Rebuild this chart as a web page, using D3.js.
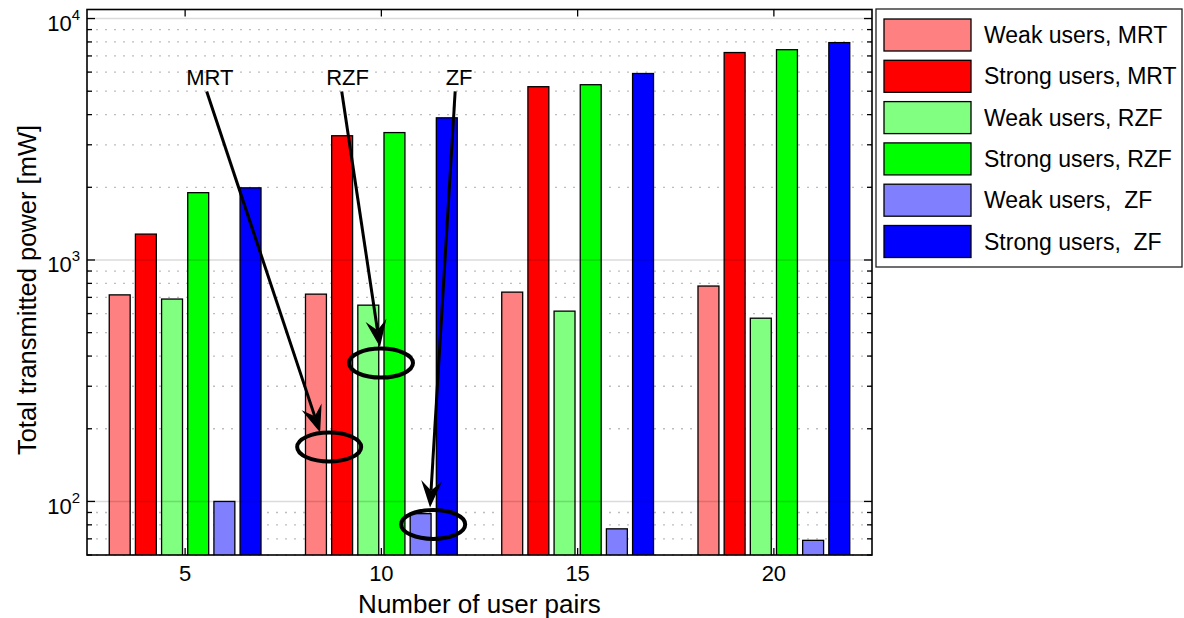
<!DOCTYPE html>
<html>
<head>
<meta charset="utf-8">
<script src="https://cdn.jsdelivr.net/npm/d3@7"></script>
<style>
  body { margin: 0; background: #fff; }
  svg { font-family: "Liberation Sans", Arial, sans-serif; display: block; }
</style>
</head>
<body>
<div id="chart-div"></div>
<script>
// ------------------------- data
var categories = [5, 10, 15, 20];
var seriesNames = ["Weak users, MRT", "Strong users, MRT", "Weak users, RZF",
                   "Strong users, RZF", "Weak users,  ZF", "Strong users,  ZF"];
var weakMRT   = [717, 722, 736, 780];
var strongMRT = [1280, 3270, 5220, 7230];
var weakRZF   = [689, 650, 614, 574];
var strongRZF = [1900, 3370, 5320, 7430];
var weakZF    = [100, 89, 77, 69];
var strongZF  = [1990, 3880, 5920, 7950];
var yMajorTicks = [100, 1000, 10000];
var xTickValues = [5, 10, 15, 20];

// annotations in data units: label pos, arrow start, arrow tip, ellipse centre
var annoLabels = ["MRT", "RZF", "ZF"];
var annoText   = [[5.63, 5300], [9.14, 5300], [11.98, 5300]];
var annoFrom   = [[5.55, 4990], [8.99, 4990], [11.88, 4990]];
var annoTo     = [[8.44, 193], [9.965, 436], [11.24, 94.4]];
var annoCircle = [[8.67, 168], [9.99, 374], [11.32, 80.3]];

var colors = ["#ff8080", "#ff0000", "#80ff80", "#00ff00", "#8080ff", "#0000ff"];

function drawChart() {
    var allSeries = [weakMRT, strongMRT, weakRZF, strongRZF, weakZF, strongZF];
    var svgWidth = 1184, svgHeight = 618;
    var left = 87, right = 872, top = 9.5, bottom = 555;

    var svg = d3.select("#chart-div").append("svg")
        .attr("width", svgWidth)
        .attr("height", svgHeight);

    var x = d3.scaleLinear().domain([2.5, 22.5]).range([left, right]);
    var y = d3.scaleLog().domain([60, 10900]).range([bottom, top]);
    // position of bars inside a group, 4 x-units wide
    var inner = d3.scaleBand()
        .domain(d3.range(seriesNames.length))
        .range([x(0) - x(2), x(2) - x(0)])
        .paddingInner(0.2)
        .paddingOuter(0.1);

    svg.append("defs").append("clipPath").attr("id", "plot-clip")
        .append("rect")
        .attr("x", left).attr("y", top)
        .attr("width", right - left).attr("height", bottom - top);

    // minor dotted grid
    var minorTicks = y.ticks().filter(function(t) { return yMajorTicks.indexOf(t) < 0; });
    svg.append("g").selectAll("line")
        .data(minorTicks)
        .enter().append("line")
        .attr("x1", left).attr("x2", right)
        .attr("y1", function(d) { return y(d); })
        .attr("y2", function(d) { return y(d); })
        .attr("stroke", "#bdbdbd")
        .attr("stroke-width", 1.3)
        .attr("stroke-dasharray", "2,7");

    // bars
    var barG = svg.append("g").attr("clip-path", "url(#plot-clip)");
    allSeries.forEach(function(vals, s) {
        barG.append("g").selectAll("rect")
            .data(vals)
            .enter().append("rect")
            .attr("x", function(d, i) { return x(categories[i]) + inner(s); })
            .attr("y", function(d) { return y(d); })
            .attr("width", inner.bandwidth())
            .attr("height", function(d) { return bottom + 5 - y(d); })
            .attr("fill", colors[s])
            .attr("stroke", "#000")
            .attr("stroke-width", 1.3);
    });

    // major grid, drawn over the bars
    svg.append("g").selectAll("line")
        .data(yMajorTicks)
        .enter().append("line")
        .attr("x1", left).attr("x2", right)
        .attr("y1", function(d) { return y(d); })
        .attr("y2", function(d) { return y(d); })
        .attr("stroke", "#000")
        .attr("stroke-opacity", 0.14)
        .attr("stroke-width", 1.5);

    // inward ticks on left and right
    var allY = minorTicks.concat(yMajorTicks);
    [left, right].forEach(function(edge, k) {
        var dir = k === 0 ? 1 : -1;
        svg.append("g").selectAll("line")
            .data(allY)
            .enter().append("line")
            .attr("x1", edge)
            .attr("x2", function(d) { return edge + dir * (yMajorTicks.indexOf(d) >= 0 ? 8 : 5); })
            .attr("y1", function(d) { return y(d); })
            .attr("y2", function(d) { return y(d); })
            .attr("stroke", "#000")
            .attr("stroke-width", 1.3);
    });
    // inward ticks on top and bottom
    [top, bottom].forEach(function(edge, k) {
        var dir = k === 0 ? 1 : -1;
        svg.append("g").selectAll("line")
            .data(xTickValues)
            .enter().append("line")
            .attr("x1", function(d) { return x(d); })
            .attr("x2", function(d) { return x(d); })
            .attr("y1", edge)
            .attr("y2", edge + dir * 7)
            .attr("stroke", "#000")
            .attr("stroke-width", 1.3);
    });

    // box
    svg.append("rect")
        .attr("x", left).attr("y", top)
        .attr("width", right - left).attr("height", bottom - top)
        .attr("fill", "none")
        .attr("stroke", "#000")
        .attr("stroke-width", 1.6);

    // tick labels
    svg.append("g").selectAll("text")
        .data(xTickValues)
        .enter().append("text")
        .attr("x", function(d) { return x(d); })
        .attr("y", bottom + 26)
        .attr("text-anchor", "middle")
        .style("font-size", "22px")
        .text(function(d) { return d; });

    var yLab = svg.append("g").selectAll("text")
        .data(yMajorTicks)
        .enter().append("text")
        .attr("x", 80)
        .attr("y", function(d) { return y(d) + 12.5; })
        .attr("text-anchor", "end")
        .style("font-size", "22px");
    yLab.append("tspan").text("10");
    yLab.append("tspan")
        .attr("dy", -11)
        .style("font-size", "15px")
        .text(function(d) { return Math.round(Math.log10(d)); });

    // axis titles
    svg.append("text")
        .attr("x", (left + right) / 2)
        .attr("y", 613)
        .attr("text-anchor", "middle")
        .style("font-size", "26px")
        .text("Number of user pairs");
    svg.append("text")
        .attr("transform", "translate(36, 290) rotate(-90)")
        .attr("text-anchor", "middle")
        .style("font-size", "25.5px")
        .text("Total transmitted power [mW]");

    // annotations
    var annoG = svg.append("g");
    annoLabels.forEach(function(lbl, i) {
        annoG.append("text")
            .attr("x", x(annoText[i][0]))
            .attr("y", y(annoText[i][1]))
            .attr("text-anchor", "middle")
            .style("font-size", "22px")
            .text(lbl);

        var x0 = x(annoFrom[i][0]), y0 = y(annoFrom[i][1]);
        var x1 = x(annoTo[i][0]), y1 = y(annoTo[i][1]);
        var len = Math.hypot(x1 - x0, y1 - y0);
        var ux = (x1 - x0) / len, uy = (y1 - y0) / len;
        var px = -uy, py = ux;
        var headLen = 27, notch = 17, half = 10.5;
        var nx = x1 - ux * notch, ny = y1 - uy * notch;
        annoG.append("line")
            .attr("x1", x0).attr("y1", y0)
            .attr("x2", nx).attr("y2", ny)
            .attr("stroke", "#000")
            .attr("stroke-width", 3);
        var bx = x1 - ux * headLen, by = y1 - uy * headLen;
        var head = [[x1, y1], [bx + px * half, by + py * half], [nx, ny], [bx - px * half, by - py * half]];
        annoG.append("path")
            .attr("d", d3.line()(head) + "Z")
            .attr("fill", "#000");

        annoG.append("ellipse")
            .attr("cx", x(annoCircle[i][0]))
            .attr("cy", y(annoCircle[i][1]))
            .attr("rx", 32)
            .attr("ry", 14.5)
            .attr("fill", "none")
            .attr("stroke", "#000")
            .attr("stroke-width", 4);
    });

    // legend
    var leg = svg.append("g");
    leg.append("rect")
        .attr("x", 876).attr("y", 9)
        .attr("width", 306).attr("height", 258)
        .attr("fill", "#fff")
        .attr("stroke", "#222")
        .attr("stroke-width", 1.3);
    var rows = leg.selectAll("g.row")
        .data(seriesNames)
        .enter().append("g")
        .attr("class", "row")
        .attr("transform", function(d, i) { return "translate(0," + (19 + i * 41.3) + ")"; });
    rows.append("rect")
        .attr("x", 884).attr("y", 0)
        .attr("width", 87).attr("height", 32)
        .attr("fill", function(d, i) { return colors[i]; })
        .attr("stroke", "#000")
        .attr("stroke-width", 1.3);
    rows.append("text")
        .attr("x", 984)
        .attr("y", 24)
        .style("font-size", "23px")
        .style("white-space", "pre")
        .text(function(d) { return d; });
}

drawChart();
</script>
</body>
</html>
